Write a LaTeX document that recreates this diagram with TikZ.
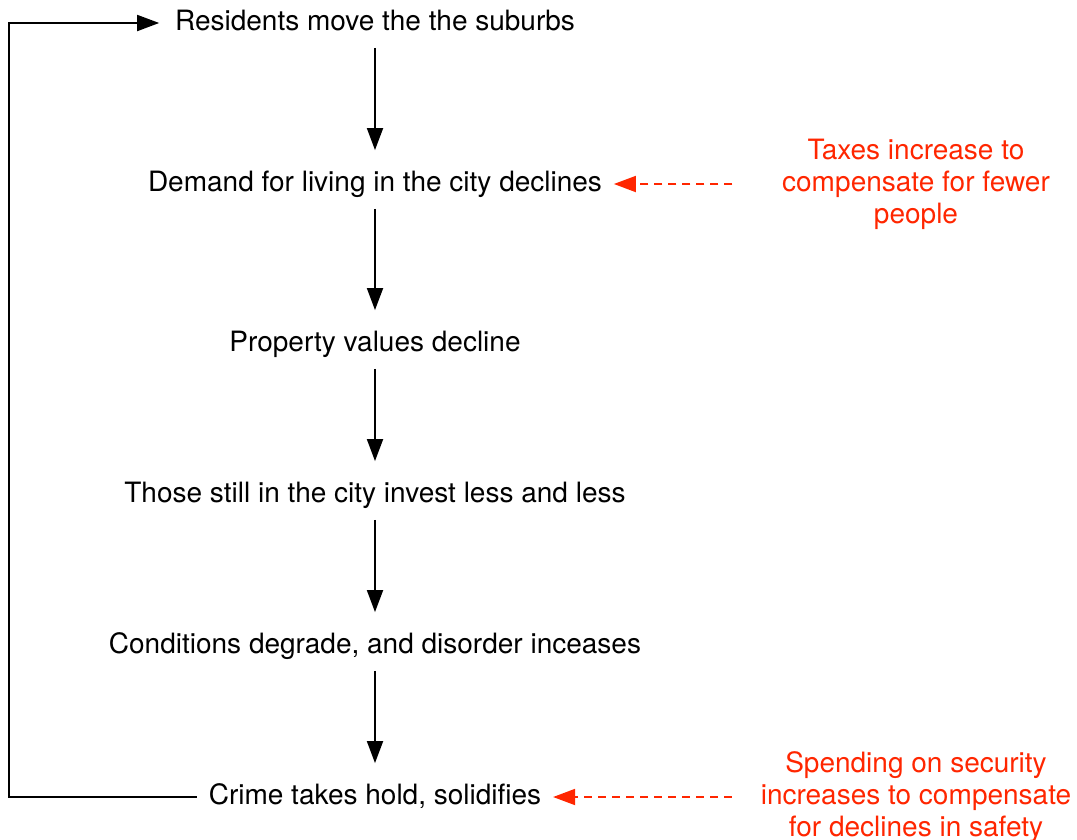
\documentclass[tikz,border=0pt]{standalone}
\usepackage{fontspec}
\setmainfont{TeX Gyre Heros}
\usepackage{xcolor}
\usetikzlibrary{arrows.meta,positioning}
\definecolor{notered}{HTML}{FF2600}

\begin{document}
\begin{tikzpicture}[x=1pt,y=-1pt,node distance=151pt,on grid,
   >={Triangle[length=22pt,width=16pt]},line width=1.8pt,
   stage/.style={font=\fontsize{28}{32}\selectfont,text height=20pt,text depth=6pt,inner xsep=11pt,inner ysep=3pt},
   note/.style={font=\fontsize{28}{32}\selectfont,text=notered,align=center,inner xsep=11pt},
   feedback/.style={->,notered,dash pattern=on 8pt off 6pt}]
   \useasboundingbox (0,0) rectangle (1077,839);

   \node[stage] (res) at (375,23) {Residents move the the suburbs};
   \node[stage] (demand)   [below=161pt of res]    {Demand for living in the city declines};
   \node[stage] (property) [below=160pt of demand] {Property values decline};
   \node[stage] (invest)   [below=of property]     {Those still in the city invest less and less};
   \node[stage] (disorder) [below=of invest]       {Conditions degrade, and disorder inceases};
   \node[stage] (crime)    [below=of disorder]     {Crime takes hold, solidifies};

   \node[note] (taxes)    [right=541pt of demand] {Taxes increase to\\compensate for fewer\\people};
   \node[note] (spending) [right=541pt of crime]  {Spending on security\\increases to compensate\\for declines in safety};

   \coordinate (loop) at (9,0);

    \path[->,shorten <=8pt,shorten >=17pt]
    (res)      edge (demand)
    (demand)   edge (property)
    (property) edge (invest)
    (invest)   edge (disorder)
    (disorder) edge (crime);

    \draw[->,shorten >=4pt] (crime.west) -- (crime.west -| loop) |- (res.west);

    \draw[feedback,shorten <=38pt] (taxes.west) -- (demand.east);
    \draw[feedback,shorten <=17pt] (spending.west) -- (crime.east);
\end{tikzpicture}
\end{document}
